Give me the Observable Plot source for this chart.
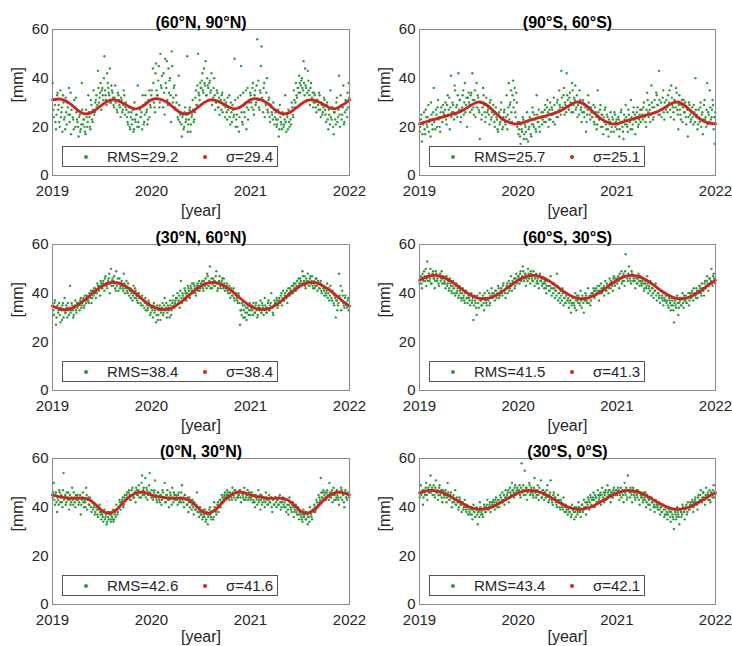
<!DOCTYPE html>
<html><head><meta charset="utf-8">
<script src="https://cdn.jsdelivr.net/npm/d3@7"></script>
<script src="https://cdn.jsdelivr.net/npm/@observablehq/plot@0.6"></script>
<style>
body{margin:0;background:#fff;}
#root{position:relative;width:732px;height:646px;overflow:hidden;font-family:"Liberation Sans",Arial,sans-serif;background:#fff;}
.panel{position:absolute;}
.legend{position:absolute;box-sizing:border-box;border:1px solid #555;background:#fff;height:21px;width:216px;font-size:15px;color:#262626;}
.legend .dot{position:absolute;top:8px;width:4px;height:4px;border-radius:50%;}
.legend .lab{position:absolute;top:0;line-height:19px;white-space:nowrap;}
</style>
</head><body><div id="root"></div><script>
// ---------- data ----------
const years = [2019, 2020, 2021, 2022];
const yTicks = [0, 20, 40, 60];
const titles = ["(60°N, 90°N)", "(90°S, 60°S)", "(30°N, 60°N)", "(60°S, 30°S)", "(0°N, 30°N)", "(30°S, 0°S)"];
const rmsVals = [29.2, 25.7, 38.4, 41.5, 42.6, 43.4];
const sigmaVals = [29.4, 25.1, 38.4, 41.3, 41.6, 42.1];

// observed points, two interleaved 4-day samplings (a, b), 2019-2022
const pts1a = [38,24,29,19,33,27,22,35,26,18,30,24,32,21,28,36,25,17,29,23,31,20,26,
 22,16,25,19,38,21,23,18,27,20,33,24,19,29,22,35,26,31,28,43,30,34,27,
 36,31,49,33,29,38,34,44,30,35,32,28,37,31,26,33,29,24,31,27,35,25,30,
 24,21,28,19,26,23,18,30,22,25,37,20,27,24,19,29,22,33,26,21,31,24,28,
 35,44,30,26,46,33,39,28,50,36,31,42,25,38,47,29,34,40,22,45,32,37,27,
 30,24,41,22,26,16,25,20,28,23,49,21,27,18,24,31,22,26,35,29,50,33,38,
 36,42,34,38,47,33,37,31,39,35,29,32,40,27,30,34,28,25,31,33,26,29,24,
 30,23,27,33,21,26,29,24,48,20,25,32,18,28,45,22,34,26,30,19,36,27,31,
 33,28,38,25,35,30,56,39,27,34,53,31,36,24,29,40,26,32,22,28,25,30,21,
 26,20,23,16,29,22,19,25,21,33,18,24,27,20,23,30,25,35,28,38,32,36,41,
 34,39,36,47,33,37,31,43,35,29,38,32,28,34,30,26,31,27,33,24,29,26,32,
 27,22,30,19,25,35,23,28,17,26,21,32,24,41,20,29,25,37,22,31,27,34,38];
const pts1b = [27,31,22,25,34,29,20,24,28,33,23,19,26,30,25,22,34,27,24,19,28,32,23,
 20,24,18,21,27,23,20,17,24,22,26,20,31,23,27,25,30,33,29,36,32,38,35,
 33,40,35,31,42,36,33,30,37,34,29,32,30,27,34,31,28,32,26,29,33,28,27,
 22,26,20,24,21,27,19,23,25,20,22,28,24,26,33,21,25,30,27,23,35,29,33,
 31,38,28,42,35,33,45,30,37,41,28,34,48,36,31,44,39,33,51,30,36,28,33,
 27,23,29,25,21,24,19,26,22,25,18,23,28,21,25,27,23,32,29,37,34,31,36,
 39,35,44,37,33,40,36,38,34,42,31,36,33,30,35,28,32,30,27,34,29,31,28,
 26,32,28,24,30,22,27,25,31,23,20,28,24,33,26,21,29,24,35,28,23,30,34,
 30,36,27,33,29,37,31,28,35,45,32,26,38,30,34,27,31,24,29,26,23,27,24,
 23,21,27,19,24,21,26,20,23,22,25,19,22,26,21,28,24,31,30,33,36,34,38,
 37,40,35,38,44,36,34,39,33,36,31,34,30,33,28,31,29,34,27,30,25,28,31,
 25,29,23,27,21,24,28,20,26,23,30,22,27,25,33,23,28,21,26,30,24,28,32];
const pts2a = [18,23,14,21,26,17,24,20,29,22,16,25,19,36,23,27,20,31,24,18,28,22,26,
 25,30,21,33,27,19,41,26,29,23,35,28,24,42,31,22,27,33,25,38,29,20,32,
 30,26,34,42,28,31,24,38,33,27,15,30,25,36,29,22,32,26,28,21,31,24,27,
 25,20,28,23,18,26,22,30,19,24,27,21,33,25,38,29,35,22,39,31,26,34,20,
 17,22,13,19,24,15,21,18,26,14,20,23,16,28,21,25,19,33,22,27,18,24,21,
 26,22,29,24,31,20,27,23,28,25,32,21,26,30,24,35,28,43,27,33,25,29,42,
 31,27,34,29,38,26,32,37,28,24,30,35,27,22,31,26,29,18,25,33,28,23,26,
 24,29,21,26,19,35,23,27,20,25,17,22,28,19,24,16,21,26,20,23,18,25,22,
 19,24,16,22,27,20,15,23,29,21,18,25,22,31,19,26,23,17,24,28,21,25,22,
 27,23,30,25,20,34,26,29,22,37,28,24,31,26,33,29,43,25,30,27,35,23,28,
 31,26,29,35,24,32,28,23,30,36,27,19,33,25,29,22,31,26,24,28,16,30,25,
 23,28,21,26,40,24,19,27,22,30,25,17,29,23,20,38,26,22,28,24,31,19,13];
const pts2b = [20,25,17,22,19,27,21,24,18,23,30,21,26,22,19,25,28,23,20,26,24,29,25,
 27,23,29,25,32,28,24,30,26,37,25,29,33,27,31,24,28,35,30,26,32,28,34,
 29,33,27,31,25,35,30,28,32,26,30,23,28,33,26,24,29,27,25,30,23,26,29,
 22,26,24,19,25,21,27,23,20,26,22,24,19,28,23,30,26,33,28,36,24,30,22,
 19,16,21,18,23,17,20,15,22,19,24,17,21,26,20,23,18,25,22,20,24,26,23,
 24,27,22,28,26,23,30,25,27,22,29,26,24,31,27,29,25,32,28,36,30,26,33,
 28,32,30,26,35,29,31,27,33,29,25,31,28,26,30,24,28,22,27,30,25,28,24,
 26,22,28,24,21,26,23,29,25,20,24,27,21,25,19,23,22,18,24,21,26,20,23,
 21,23,19,26,22,18,25,21,24,20,27,22,19,24,21,28,25,22,26,20,23,27,24,
 25,28,24,22,27,31,24,27,25,30,23,28,26,34,29,25,31,27,24,32,26,30,27,
 28,33,30,27,37,29,26,31,28,34,25,29,27,23,31,28,26,30,21,27,24,29,22,
 26,24,29,22,27,25,21,24,28,20,26,23,31,24,27,21,25,35,23,27,29,24,26];
const pts3a = [35,31,37,27,34,32,36,28,33,35,30,38,32,34,36,31,43,33,35,30,34,37,32,
 34,36,33,38,35,37,34,39,36,38,37,40,38,36,41,39,42,38,40,43,41,39,44,
 42,45,41,47,43,44,46,40,50,45,43,47,42,49,44,41,46,43,45,42,48,40,43,
 41,44,39,42,40,37,43,38,41,39,36,40,38,35,39,37,34,38,36,33,37,35,32,
 34,30,36,33,28,35,31,34,29,33,36,32,38,34,30,35,33,37,31,36,39,34,37,
 35,40,37,34,45,36,39,38,41,37,40,42,39,43,41,40,44,42,39,43,41,45,42,
 43,45,41,44,46,42,47,43,51,44,42,46,45,43,49,41,44,47,42,45,43,46,41,
 42,44,40,43,38,41,39,42,37,40,38,36,39,27,33,36,30,35,32,29,34,31,36,
 33,35,31,34,32,36,30,34,33,37,32,35,31,38,34,32,36,33,35,40,34,31,37,
 35,38,34,37,36,39,35,41,37,40,38,36,42,39,41,43,40,44,42,41,45,43,44,
 46,43,49,44,47,42,45,48,43,46,44,47,42,45,43,46,41,44,42,45,40,43,41,
 42,39,44,40,37,43,38,41,36,39,30,37,35,48,38,33,41,36,34,39,35,37,33];
const pts3b = [33,36,34,30,35,33,31,34,29,36,33,32,35,30,33,34,32,36,33,31,35,33,36,
 36,35,37,34,36,38,35,37,39,37,36,39,41,38,40,42,40,41,44,42,43,45,42,
 44,43,46,44,42,45,48,44,43,46,45,44,41,43,46,44,42,44,43,41,44,42,45,
 40,42,41,38,41,39,40,42,38,37,40,38,36,38,35,37,36,33,35,34,36,31,34,
 33,35,32,34,31,29,33,35,32,34,31,35,33,36,32,34,30,35,33,37,35,36,38,
 38,36,39,41,38,40,37,42,40,39,43,41,38,42,44,41,43,40,42,44,43,41,44,
 44,42,45,43,44,48,43,45,42,46,44,43,45,47,44,42,45,43,44,46,42,44,43,
 43,41,42,40,42,39,41,38,40,39,37,40,36,33,31,35,33,30,34,32,35,33,31,
 34,33,36,32,35,33,31,35,34,32,36,34,33,35,32,34,37,33,36,34,32,35,36,
 36,37,35,38,36,40,38,37,39,38,41,39,40,42,41,40,43,42,44,43,42,46,44,
 45,44,47,45,43,46,44,45,43,47,45,43,44,42,46,43,45,42,44,41,43,42,39,
 40,41,38,42,39,41,37,40,35,38,37,33,36,39,43,37,39,35,38,36,34,38,35];
const pts4a = [44,47,42,46,49,45,43,53,47,45,50,44,48,46,42,49,45,47,43,48,46,44,47,
 45,42,47,44,41,46,43,40,45,42,39,44,41,38,43,40,37,42,39,36,41,38,40,
 38,35,40,37,29,39,36,31,38,34,40,37,35,39,33,38,36,41,37,35,39,42,38,
 40,37,41,39,43,38,40,42,39,44,41,38,43,40,45,42,47,41,44,46,43,48,45,
 47,44,49,46,51,45,48,43,47,50,46,44,48,45,49,43,47,44,46,42,48,45,43,
 46,42,44,40,45,43,41,47,39,42,44,38,41,48,37,40,36,39,42,35,38,36,40,
 37,34,39,32,36,38,35,40,33,37,39,36,41,34,38,32,37,39,36,42,38,35,40,
 39,42,38,41,40,43,37,41,44,40,42,39,45,41,43,40,46,42,44,41,47,43,45,
 44,47,42,46,49,45,48,43,56,47,45,51,46,44,48,45,47,42,46,44,48,43,45,
 43,46,41,44,42,47,40,43,45,39,42,38,41,44,37,40,38,36,41,39,35,38,37,
 36,39,34,37,33,38,35,28,37,34,39,31,36,38,35,40,34,37,39,36,38,35,40,
 38,41,37,40,39,42,38,41,43,40,44,42,39,45,43,47,41,46,44,50,43,48,45];
const pts4b = [46,44,48,45,47,50,46,45,48,46,44,47,49,46,45,48,46,44,47,45,49,46,44,
 44,46,43,45,42,44,41,43,42,40,43,40,42,39,41,38,40,38,37,40,38,36,39,
 37,39,36,38,35,37,34,39,36,38,37,35,38,36,40,37,35,38,40,36,38,40,39,
 39,41,38,40,42,39,41,40,43,41,40,42,44,42,41,44,43,45,44,42,46,44,47,
 46,48,45,47,49,46,48,46,45,48,47,49,46,45,47,46,48,45,44,47,45,46,44,
 44,45,42,43,45,41,43,42,44,40,42,41,39,43,40,38,41,37,40,38,36,39,37,
 38,36,37,35,38,36,34,37,39,36,38,35,37,39,36,38,40,37,38,36,39,37,39,
 40,41,39,42,40,41,43,40,42,41,43,42,41,44,43,42,44,45,43,46,44,46,45,
 46,45,48,46,44,47,45,49,47,46,48,47,45,49,47,46,45,47,44,46,45,47,44,
 45,44,42,45,43,44,42,41,44,42,40,43,41,39,42,40,39,41,38,37,40,37,39,
 37,35,38,36,35,37,33,36,35,38,36,34,37,35,38,36,39,37,36,38,40,37,39,
 40,39,42,40,38,41,40,43,42,39,42,41,44,42,45,44,43,46,45,44,47,46,44];
const pts5a = [44,50,41,46,38,43,47,42,45,40,54,44,41,46,43,39,45,42,48,41,44,40,43,
 45,41,44,37,43,46,40,42,48,39,44,41,43,38,42,40,37,41,39,36,40,38,35,
 37,34,39,36,33,38,35,37,34,36,39,35,38,41,37,40,43,39,42,44,41,45,43,
 46,44,47,43,45,48,44,46,42,47,45,49,46,44,53,47,45,52,48,43,46,54,45,
 47,43,46,51,44,42,46,43,45,41,47,44,50,42,45,43,40,46,44,48,42,45,43,
 44,41,46,43,42,49,44,40,45,43,41,38,44,42,39,43,37,41,39,46,38,36,40,
 37,35,39,36,34,38,33,37,40,36,38,35,42,39,37,41,38,43,40,45,42,44,46,
 44,47,45,43,46,44,48,45,47,43,46,44,45,47,42,46,44,48,43,45,47,44,46,
 43,46,42,45,40,44,41,47,43,39,45,42,44,40,46,43,41,45,42,44,38,43,41,
 44,40,43,41,45,39,42,44,40,43,38,41,37,44,40,38,42,36,39,41,37,40,35,
 38,36,34,39,37,35,38,33,36,40,37,35,39,41,38,43,40,45,42,52,44,46,43,
 46,43,47,45,50,44,46,42,48,45,43,47,44,41,46,48,43,45,40,47,44,46,45];
const pts5b = [46,43,45,42,44,41,46,44,42,47,43,45,42,44,46,43,41,44,43,46,42,45,44,
 43,42,45,41,44,42,43,40,45,43,41,44,40,42,39,41,38,40,37,39,41,37,38,
 36,38,35,37,34,36,38,35,37,35,34,37,36,39,38,40,42,41,43,40,44,43,45,
 44,46,45,43,47,45,44,46,48,45,47,44,46,50,45,48,46,44,47,45,49,46,44,
 45,44,47,45,43,46,44,42,45,43,46,44,42,45,47,44,43,45,41,44,46,43,45,
 43,45,42,44,46,43,42,45,43,41,44,42,40,43,41,40,42,39,41,38,40,38,37,
 38,36,37,39,35,37,36,39,37,35,38,36,40,38,39,42,40,43,42,44,43,45,44,
 45,46,44,46,45,43,46,44,47,46,44,45,47,44,46,45,43,46,44,45,43,46,44,
 44,45,43,42,45,43,44,42,45,43,41,44,43,42,44,41,43,42,44,40,43,41,44,
 42,43,41,44,42,40,43,41,42,40,43,39,41,42,39,41,40,38,40,38,39,37,38,
 37,35,37,36,38,35,37,36,34,38,36,39,38,40,39,42,41,44,43,46,44,47,45,
 44,46,45,43,46,44,47,45,43,46,44,45,43,46,44,47,45,42,46,44,43,45,44];
const pts6a = [44,49,46,41,47,45,50,43,48,46,53,47,45,49,44,51,46,43,48,45,47,42,46,
 44,47,42,50,45,43,46,40,44,42,47,41,43,39,44,41,38,42,40,43,39,41,37,
 40,37,39,35,41,38,36,40,33,38,42,37,39,36,41,38,40,43,39,41,38,42,40,
 42,39,44,41,43,40,45,42,46,43,41,47,44,46,42,48,45,50,47,44,49,46,48,
 46,49,44,58,47,45,55,48,43,47,50,45,48,46,44,52,47,45,49,43,46,51,44,
 47,43,46,44,49,42,45,51,43,41,46,44,42,40,45,43,39,42,40,44,38,41,39,
 37,40,38,36,41,39,35,38,40,37,42,39,36,41,38,43,40,37,42,44,39,45,41,
 43,46,40,44,42,47,43,45,41,48,44,42,46,43,49,45,47,42,46,44,48,45,47,
 45,48,43,46,44,47,42,50,45,43,53,47,44,46,42,48,45,43,47,44,46,41,45,
 44,42,46,43,40,45,41,43,39,44,42,40,38,43,41,39,42,37,40,38,41,36,39,
 37,35,40,38,34,39,36,31,38,35,40,37,33,39,36,41,38,35,40,37,42,39,41,
 40,43,38,42,44,41,39,45,43,47,42,46,44,41,48,45,43,47,42,46,44,49,46];
const pts6b = [46,45,47,44,46,48,45,47,46,49,46,48,47,45,48,46,47,45,49,46,44,47,45,
 46,45,44,46,43,45,44,42,45,43,41,44,42,40,43,41,42,39,41,40,38,40,39,
 38,40,37,39,38,36,39,37,38,36,40,38,37,39,40,38,41,39,40,42,40,41,43,
 41,43,42,40,43,42,44,43,42,45,44,43,45,47,44,46,45,47,46,48,45,47,46,
 47,45,48,46,49,47,45,48,46,47,49,46,47,45,48,46,44,47,45,48,46,44,47,
 45,46,44,47,45,43,46,44,42,45,43,44,41,43,42,40,43,41,39,41,40,38,40,
 39,38,40,37,39,38,40,36,39,38,40,38,39,41,39,40,42,40,41,43,42,44,43,
 44,43,45,44,42,45,44,46,45,43,46,45,47,44,46,47,45,46,44,47,46,45,47,
 46,47,45,48,46,45,47,46,48,44,47,46,48,45,47,46,44,46,45,47,43,46,44,
 45,43,44,46,42,44,43,41,44,42,43,41,40,42,40,41,39,40,38,41,39,37,40,
 38,37,39,36,38,37,35,39,37,36,38,36,39,38,37,40,38,39,41,38,40,39,42,
 41,42,40,43,42,41,44,42,45,43,44,46,43,45,44,46,45,43,46,45,47,44,46];

// fitted seasonal model, monthly (Jan 2019 .. Jan 2022)
const fit1 = [31.1,31.4,29.8,27.0,25.3,26.4,29.0,31.0,30.6,28.9,27.4,28.6,
 31.1,31.4,29.8,27.0,25.3,26.4,29.0,31.0,30.6,28.9,27.4,28.6,
 31.1,31.4,29.8,27.0,25.3,26.4,29.0,31.0,30.6,28.9,27.4,28.6,31.1];
const fit2 = [21.2,22.3,23.3,24.2,25.2,26.3,28.3,30.1,29.4,26.5,23.5,21.7,
 21.2,22.3,23.3,24.2,25.2,26.3,28.3,30.1,29.4,26.5,23.5,21.7,
 21.2,22.3,23.3,24.2,25.2,26.3,28.3,30.1,29.4,26.5,23.5,21.7,21.2];
const fit3 = [34.7,33.4,33.4,35.0,37.5,40.4,42.9,44.3,44.2,42.6,40.1,37.2,
 34.7,33.4,33.4,35.0,37.5,40.4,42.9,44.3,44.2,42.6,40.1,37.2,
 34.7,33.4,33.4,35.0,37.5,40.4,42.9,44.3,44.2,42.6,40.1,37.2,34.7];
const fit4 = [45.3,46.9,47.3,46.4,44.5,42.0,39.7,38.1,37.7,38.6,40.5,43.0,
 45.3,46.9,47.3,46.4,44.5,42.0,39.7,38.1,37.7,38.6,40.5,43.0,
 45.3,46.9,47.3,46.4,44.5,42.0,39.7,38.1,37.7,38.6,40.5,43.0,45.3];
const fit5 = [45.0,44.2,43.7,43.7,43.6,41.8,38.6,37.6,39.8,43.3,45.6,46.1,
 45.0,44.2,43.7,43.7,43.6,41.8,38.6,37.6,39.8,43.3,45.6,46.1,
 45.0,44.2,43.7,43.7,43.6,41.8,38.6,37.6,39.8,43.3,45.6,46.1,45.0];
const fit6 = [45.8,46.8,46.7,45.7,43.9,41.9,40.2,39.2,39.3,40.3,42.1,44.1,
 45.8,46.8,46.7,45.7,43.9,41.9,40.2,39.2,39.3,40.3,42.1,44.1,
 45.8,46.8,46.7,45.7,43.9,41.9,40.2,39.2,39.3,40.3,42.1,44.1,45.8];

const ptsA = [pts1a, pts2a, pts3a, pts4a, pts5a, pts6a];
const ptsB = [pts1b, pts2b, pts3b, pts4b, pts5b, pts6b];
const allFits = [fit1, fit2, fit3, fit4, fit5, fit6];

// ---------- drawing ----------
const GREEN = "#2a9a3e";
const RED = "#d81e1e";
const FONT = "'Liberation Sans', Arial, sans-serif";
const root = document.getElementById("root");
const rowTop = [0, 215, 429];

ptsA.forEach((valsA, k) => {
  const valsB = ptsB[k];
  const col = k % 2, row = Math.floor(k / 2);
  const left = col * 366, top = rowTop[row];
  const h = row === 2 ? 217 : 215;
  const mL = col === 0 ? 52 : 53;
  const NA = valsA.length, NB = valsB.length;
  const pts = valsA.map((v, i) => ({x: 2019 + (i + 0.25) * 3 / NA, y: v}))
    .concat(valsB.map((v, i) => ({x: 2019 + (i + 0.75) * 3 / NB, y: v})));
  const fit = allFits[k].map((v, m) => ({x: 2019 + m / 12, y: v}));
  const chart = Plot.plot({
    width: 366, height: h,
    marginLeft: mL, marginRight: 17, marginTop: 29, marginBottom: h - 175,
    style: {fontFamily: FONT, fontSize: "15px", color: "#262626", background: "transparent", overflow: "visible"},
    x: {domain: [2019, 2022]},
    y: {domain: [0, 60]},
    marks: [
      Plot.dot(pts, {x: "x", y: "y", r: 1.2, fill: GREEN, stroke: null}),
      Plot.line(fit, {x: "x", y: "y", stroke: RED, strokeWidth: 2.8, curve: "natural"}),
      Plot.frame({stroke: "#8a8a8a"}),
      Plot.axisX({ticks: years, tickFormat: d => String(d), tickSize: 0, tickPadding: 10, label: null}),
      Plot.axisY({ticks: yTicks, tickSize: 0, tickPadding: 4, label: null}),
      Plot.text([titles[k]], {text: d => d, frameAnchor: "top", lineAnchor: "middle", dy: -7, fontWeight: "bold", fontSize: 16, fill: "#000"}),
      Plot.text(["[year]"], {text: d => d, frameAnchor: "bottom", lineAnchor: "middle", dy: row === 2 ? 32 : 35, fontSize: 16, fill: "#262626"}),
      Plot.text(["[mm]"], {text: d => d, frameAnchor: "left", lineAnchor: "middle", dx: -35, rotate: -90, fontSize: 16, fill: "#262626"})
    ]
  });
  const wrap = document.createElement("div");
  wrap.className = "panel";
  wrap.style.left = left + "px";
  wrap.style.top = top + "px";
  wrap.appendChild(chart);
  root.appendChild(wrap);

  const lg = document.createElement("div");
  lg.className = "legend";
  lg.style.left = (left + mL + 10) + "px";
  lg.style.top = (top + 146) + "px";
  lg.innerHTML =
    `<span class="dot" style="left:21px;background:${GREEN}"></span>` +
    `<span class="lab" style="left:44px">RMS=${rmsVals[k].toFixed(1)}</span>` +
    `<span class="dot" style="left:140px;background:${RED}"></span>` +
    `<span class="lab" style="left:163px">σ=${sigmaVals[k].toFixed(1)}</span>`;
  root.appendChild(lg);
});
</script></body></html>
